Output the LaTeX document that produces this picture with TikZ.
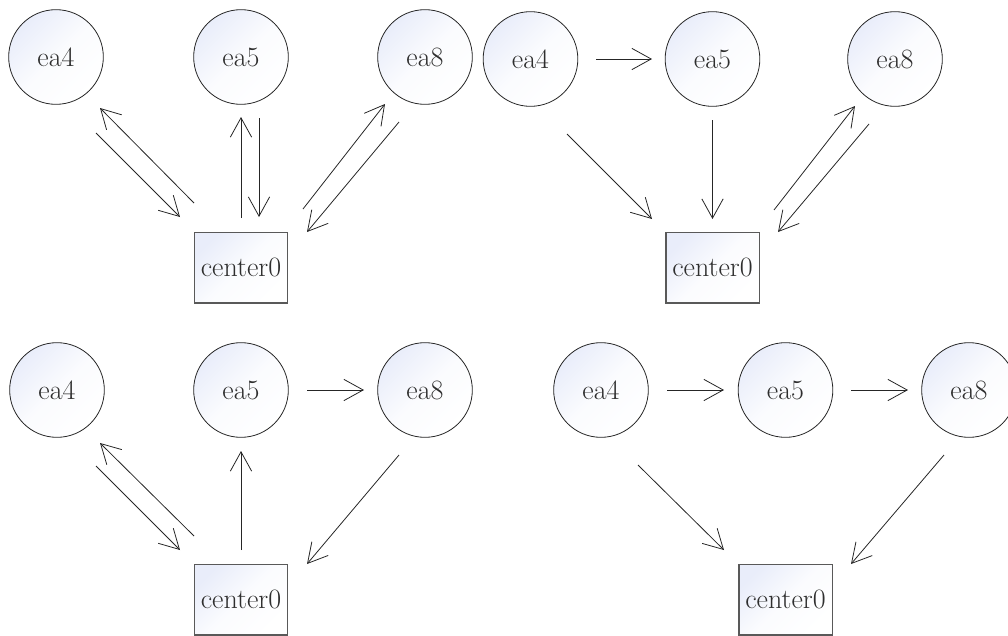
\documentclass[tikz,border=0pt]{standalone}
\usetikzlibrary{arrows.meta}
\definecolor{tint}{RGB}{233,237,250}
\begin{document}
\begin{tikzpicture}[x=0.75pt,y=-0.75pt,
  every node/.style={font=\rmfamily\fontsize{21}{24}\selectfont, text=black!82},
  fillgrad/.style={top color=tint, bottom color=white, middle color=white!80!tint, shading angle=45},
  ea/.style={circle, draw=black!85, line width=0.6pt, minimum size=71pt, inner sep=0pt, fillgrad},
  ctr/.style={rectangle, draw=black!65, line width=1pt, minimum width=70pt, minimum height=53pt, inner sep=0pt, fillgrad},
  arr/.style={draw=black!85, line width=0.6pt, -{Straight Barb[length=14.5pt,width=16pt,line width=0.6pt]}}
]
\useasboundingbox (0,0) rectangle (1008,636);
% ---- top left
\node[ea] (a4) at (56,57) {ea4};
\node[ea] (a5) at (241,57) {ea5};
\node[ea] (a8) at (425,57) {ea8};
\node[ctr] (ac) at (241,267.5) {center0};
\draw[arr] ([shift={(40,76)}]a4.center) -- ([shift={(-61,-50.5)}]ac.center);
\draw[arr] ([shift={(-47,-64.5)}]ac.center) -- ([shift={(44,51)}]a4.center);
\draw[arr] ([shift={(0,-49.5)}]ac.center) -- ([shift={(0,60)}]a5.center);
\draw[arr] ([shift={(18,61)}]a5.center) -- ([shift={(18,-50.5)}]ac.center);
\draw[arr] ([shift={(62,-58.5)}]ac.center) -- ([shift={(-40,47)}]a8.center);
\draw[arr] ([shift={(-26,65)}]a8.center) -- ([shift={(66,-35.5)}]ac.center);
% ---- top right
\node[ea] (b4) at (530.5,59) {ea4};
\node[ea] (b5) at (712.5,59) {ea5};
\node[ea] (b8) at (895,59) {ea8};
\node[ctr] (bc) at (712.5,267.5) {center0};
\draw[arr] ([shift={(65.5,0)}]b4.center) -- ([shift={(-60.5,0)}]b5.center);
\draw[arr] ([shift={(36.5,75)}]b4.center) -- ([shift={(-60.5,-48.5)}]bc.center);
\draw[arr] ([shift={(0,61)}]b5.center) -- ([shift={(0,-48.5)}]bc.center);
\draw[arr] ([shift={(61.5,-57.5)}]bc.center) -- ([shift={(-40,47)}]b8.center);
\draw[arr] ([shift={(-26,65)}]b8.center) -- ([shift={(65.5,-35.5)}]bc.center);
% ---- bottom left
\node[ea] (c4) at (57,390) {ea4};
\node[ea] (c5) at (241,390) {ea5};
\node[ea] (c8) at (425,390) {ea8};
\node[ctr] (cc) at (241,599.5) {center0};
\draw[arr] ([shift={(-47,-63.5)}]cc.center) -- ([shift={(43,53)}]c4.center);
\draw[arr] ([shift={(39,76)}]c4.center) -- ([shift={(-61,-49.5)}]cc.center);
\draw[arr] ([shift={(0,-49.5)}]cc.center) -- ([shift={(0,61)}]c5.center);
\draw[arr] ([shift={(66,0)}]c5.center) -- ([shift={(-61,0)}]c8.center);
\draw[arr] ([shift={(-26,65)}]c8.center) -- ([shift={(66,-35.5)}]cc.center);
% ---- bottom right
\node[ea] (d4) at (601,390) {ea4};
\node[ea] (d5) at (785.5,390) {ea5};
\node[ea] (d8) at (969,390) {ea8};
\node[ctr] (dc) at (785.5,599.5) {center0};
\draw[arr] ([shift={(66,0)}]d4.center) -- ([shift={(-61.5,0)}]d5.center);
\draw[arr] ([shift={(65.5,0)}]d5.center) -- ([shift={(-61,0)}]d8.center);
\draw[arr] ([shift={(37,75)}]d4.center) -- ([shift={(-61.5,-49.5)}]dc.center);
\draw[arr] ([shift={(-25,65)}]d8.center) -- ([shift={(65.5,-35.5)}]dc.center);
\end{tikzpicture}
\end{document}
